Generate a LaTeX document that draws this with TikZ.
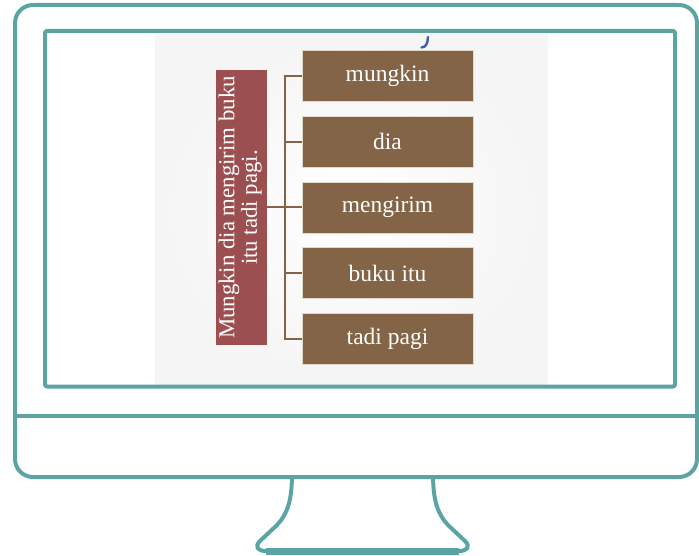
\documentclass[tikz,border=0pt]{standalone}
\usepackage{graphicx}
\usepackage{fontspec}
\setmainfont{Liberation Serif}
\definecolor{teal}{HTML}{5AA5A4}
\definecolor{rootred}{HTML}{9C4F50}
\definecolor{leafbrown}{HTML}{836446}
\definecolor{leafedge}{HTML}{E2D8CA}
\definecolor{markblue}{HTML}{3D5FA8}
\tikzset{
  frame/.style={draw=teal, line width=4pt, line join=round},
  rootbox/.style={fill=rootred, draw=none, minimum width=51pt, minimum height=275pt,
    inner sep=0pt, text=white, font=\fontsize{22.8}{22}\selectfont},
  leafbox/.style={fill=leafbrown, draw=leafedge, line width=0.8pt, minimum width=171pt,
    minimum height=51pt, inner sep=0pt, text=white, font=\fontsize{23.5}{24}\selectfont},
  conn/.style={draw=leafbrown, line width=2pt}
}
\begin{document}
\begin{tikzpicture}[x=1pt, y=-1pt]
\useasboundingbox (0,0) rectangle (699,556);

% monitor body, screen and chin divider
\draw[frame, rounded corners=18] (15,5) rectangle (697,477);
\draw[frame] (15,416) -- (697,416);

% slide area with a soft vignette
\shade[inner color=white, outer color=black!4] (155,35) rectangle (548,385);
\draw[frame, rounded corners=2] (45,31) rectangle (675,386.5);

% stray glyph at the top of the slide
\draw[markblue, line width=2.4pt, line cap=round] (428,37) .. controls (427.5,44) and (426,47) .. (421.5,47.5);

% stand
\draw[frame] (292,477) .. controls (291.5,500) and (288,514) .. (276,526) -- (260,541)
  .. controls (254,547) and (258,551) .. (266,551) -- (459,551)
  .. controls (467,551) and (471,547) .. (465,541) -- (449,526)
  .. controls (437,514) and (433.5,500) .. (433,477);
\draw[draw=teal, line width=7pt] (266,551) -- (459,551);

% tree: sentence and its constituents
\node[rootbox] (root) at (241,207.5)
  {\rotatebox{90}{\begin{tabular}{@{}c@{}}Mungkin dia mengirim buku\\itu tadi pagi.\end{tabular}}};
\node[leafbox] (b1) at (387.5,76) {mungkin};
\node[leafbox] (b2) at (387.5,141.75) {dia};
\node[leafbox] (b3) at (387.5,207.5) {mengirim};
\node[leafbox] (b4) at (387.5,273.25) {buku itu};
\node[leafbox] (b5) at (387.5,339) {tadi pagi};

\coordinate (bus) at (285,207.5);
\draw[conn] (root.east) -- (b3.west);
\draw[conn] (b1.west) -| (bus) |- (b5.west);
\draw[conn] (bus |- b2.west) -- (b2.west);
\draw[conn] (bus |- b4.west) -- (b4.west);
\end{tikzpicture}
\end{document}
